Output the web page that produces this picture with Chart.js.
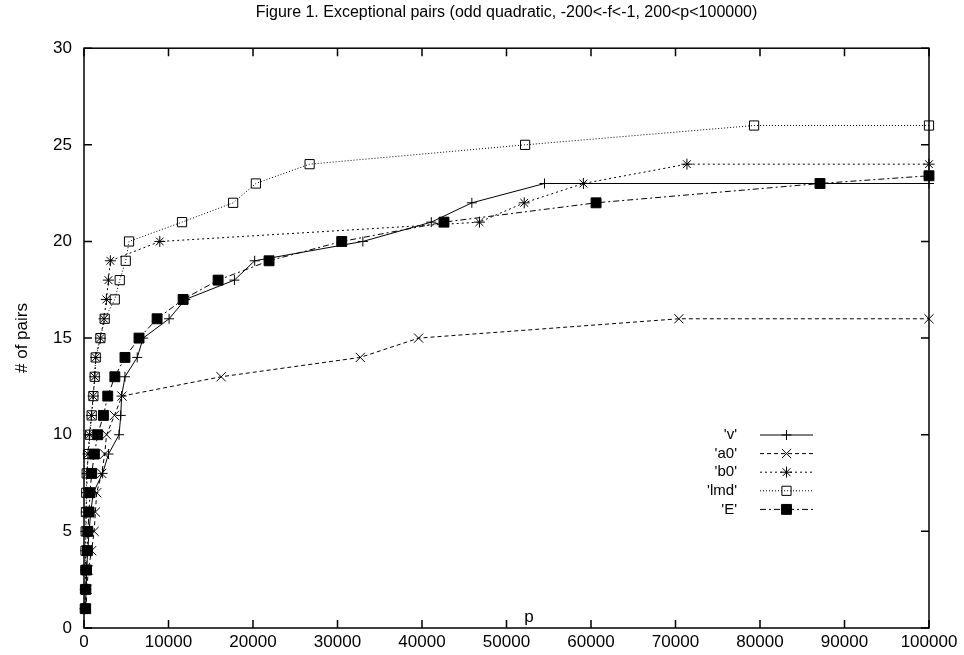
<!DOCTYPE html>
<html>
<head>
<meta charset="utf-8">
<script src="https://cdn.jsdelivr.net/npm/chart.js@4.4.0/dist/chart.umd.min.js"></script>
<style>
    html, body { margin: 0; padding: 0; background: #fff; }
    #chart { display: block; }
</style>
</head>
<body>
<canvas id="chart" width="964" height="655"></canvas>
<script>
const TITLE = 'Figure 1. Exceptional pairs (odd quadratic, -200<-f<-1, 200<p<100000)';
const FONT = '"Liberation Sans", Arial, Helvetica, sans-serif';

const xTicks = [0, 10000, 20000, 30000, 40000, 50000, 60000, 70000, 80000, 90000, 100000];
const yTicks = [0, 5, 10, 15, 20, 25, 30];

// 'v'
const vP = [200, 250, 300, 450, 600, 800, 1100, 2200, 2900, 4150, 4350, 4450, 4850, 6300, 7000, 10070, 12000, 17800, 20200, 33000, 41100, 45900, 54500, 100000];
const vN = [1, 2, 3, 4, 5, 6, 7, 8, 9, 10, 11, 12, 13, 14, 15, 16, 17, 18, 19, 20, 21, 22, 23, 23];

// 'a0'
const aP = [250, 350, 500, 900, 1200, 1350, 1500, 2100, 2450, 2670, 3600, 4500, 16230, 32700, 39600, 70400, 100000];
const aN = [1, 2, 3, 4, 5, 6, 7, 8, 9, 10, 11, 12, 13, 14, 15, 16, 16];

// 'b0'
const bP = [120, 150, 180, 200, 230, 280, 320, 380, 480, 650, 880, 1080, 1270, 1390, 1940, 2370, 2650, 2890, 3120, 8970, 46800, 52100, 59100, 71350, 100000];
const bN = [1, 2, 3, 4, 5, 6, 7, 8, 9, 10, 11, 12, 13, 14, 15, 16, 17, 18, 19, 20, 21, 22, 23, 24, 24];

// 'lmd'
const lP = [100, 120, 150, 180, 200, 230, 270, 320, 520, 710, 910, 1110, 1270, 1390, 1940, 2450, 3640, 4230, 4940, 5330, 11600, 17650, 20340, 26700, 52200, 79300, 100000];
const lN = [1, 2, 3, 4, 5, 6, 7, 8, 9, 10, 11, 12, 13, 14, 15, 16, 17, 18, 19, 20, 21, 22, 23, 24, 25, 26, 26];

// 'E'
const eP = [200, 220, 300, 400, 450, 600, 710, 910, 1230, 1620, 2300, 2810, 3650, 4850, 6510, 8650, 11730, 15870, 21900, 30500, 42600, 60600, 87100, 100000];
const eN = [1, 2, 3, 4, 5, 6, 7, 8, 9, 10, 11, 12, 13, 14, 15, 16, 17, 18, 19, 20, 21, 22, 23, 23.4];

const toPoints = (xs, ys) => xs.map((x, i) => ({ x: x, y: ys[i] }));

function series(label, xs, ys, dash, style, radius, fill) {
    return {
        label: label,
        data: toPoints(xs, ys),
        borderColor: '#000',
        borderWidth: 1,
        borderDash: dash,
        tension: 0,
        fill: false,
        clip: false,
        pointStyle: style,
        pointRadius: radius,
        pointBorderColor: '#000',
        pointBorderWidth: 1,
        pointBackgroundColor: fill
    };
}

const datasets = [
    series("'v'", vP, vN, [], 'cross', 5, '#000'),
    series("'a0'", aP, aN, [4, 3], 'crossRot', 6.5, '#000'),
    series("'b0'", bP, bN, [2, 3], 'star', 5.5, '#000'),
    series("'lmd'", lP, lN, [1, 2], 'rect', 6.5, 'rgba(0,0,0,0)'),
    series("'E'", eP, eN, [6, 3, 2, 3], 'rect', 7, '#000')
];

// gnuplot style frame with inward ticks on all four sides
const framePlugin = {
    id: 'frame',
    beforeDatasetsDraw(chart) {
        const { ctx, chartArea: a, scales: { x, y } } = chart;
        ctx.save();
        ctx.strokeStyle = '#000';
        ctx.lineWidth = 1.5;
        ctx.setLineDash([]);
        ctx.strokeRect(a.left, a.top, a.right - a.left, a.bottom - a.top);
        ctx.beginPath();
        x.ticks.forEach(t => {
            const px = x.getPixelForValue(t.value);
            ctx.moveTo(px, a.bottom); ctx.lineTo(px, a.bottom - 8);
            ctx.moveTo(px, a.top); ctx.lineTo(px, a.top + 8);
        });
        y.ticks.forEach(t => {
            const py = y.getPixelForValue(t.value);
            ctx.moveTo(a.left, py); ctx.lineTo(a.left + 8, py);
            ctx.moveTo(a.right, py); ctx.lineTo(a.right - 8, py);
        });
        ctx.stroke();

        ctx.fillStyle = '#000';
        ctx.font = '17px ' + FONT;
        ctx.textAlign = 'center';
        ctx.textBaseline = 'alphabetic';
        ctx.fillText('p', 529, 622);

        ctx.translate(22, 338);
        ctx.rotate(-Math.PI / 2);
        ctx.textBaseline = 'middle';
        ctx.fillText('# of pairs', 0, 0);
        ctx.restore();
    }
};

// key drawn inside the plot: label, then line sample with its marker
const keyPlugin = {
    id: 'key',
    afterDraw(chart) {
        const { ctx } = chart;
        const textX = 737, lineX0 = 760, lineX1 = 813, rowY = 435, rowH = 18.6;
        ctx.save();
        ctx.font = '15px ' + FONT;
        ctx.fillStyle = '#000';
        ctx.textAlign = 'right';
        ctx.textBaseline = 'middle';
        chart.data.datasets.forEach((ds, i) => {
            const yy = rowY + i * rowH;
            ctx.setLineDash([]);
            ctx.fillText(ds.label, textX, yy);
            ctx.strokeStyle = '#000';
            ctx.lineWidth = 1;
            ctx.setLineDash(ds.borderDash);
            ctx.beginPath();
            ctx.moveTo(lineX0, yy);
            ctx.lineTo(lineX1, yy);
            ctx.stroke();
            ctx.setLineDash([]);
            ctx.fillStyle = ds.pointBackgroundColor;
            Chart.helpers.drawPoint(ctx, {
                pointStyle: ds.pointStyle,
                radius: ds.pointRadius,
                rotation: 0,
                borderWidth: 1
            }, (lineX0 + lineX1) / 2, yy);
            ctx.fillStyle = '#000';
        });
        ctx.restore();
    }
};

const tickFont = { family: FONT, size: 17 };

new Chart(document.getElementById('chart'), {
    type: 'line',
    data: { datasets: datasets },
    options: {
        responsive: false,
        animation: false,
        layout: { padding: { left: 0, right: 35, top: 0, bottom: 0 } },
        plugins: {
            legend: { display: false },
            tooltip: { enabled: false },
            title: {
                display: true,
                text: TITLE,
                fullSize: false,
                color: '#000',
                font: { family: FONT, size: 16, weight: 'normal' },
                padding: { top: 3, bottom: 26 }
            }
        },
        scales: {
            x: {
                type: 'linear',
                min: 0,
                max: 100000,
                afterBuildTicks: s => { s.ticks = xTicks.map(v => ({ value: v })); },
                afterFit: s => { s.height = 27; },
                grid: { display: false, drawTicks: false },
                border: { display: false },
                ticks: { color: '#000', font: tickFont, padding: 4, maxRotation: 0, autoSkip: false, callback: v => String(v) }
            },
            y: {
                type: 'linear',
                min: 0,
                max: 30,
                afterBuildTicks: s => { s.ticks = yTicks.map(v => ({ value: v })); },
                afterFit: s => { s.width = 84; },
                grid: { display: false, drawTicks: false },
                border: { display: false },
                ticks: { color: '#000', font: tickFont, padding: 12, callback: v => String(v) }
            }
        }
    },
    plugins: [framePlugin, keyPlugin]
});
</script>
</body>
</html>
